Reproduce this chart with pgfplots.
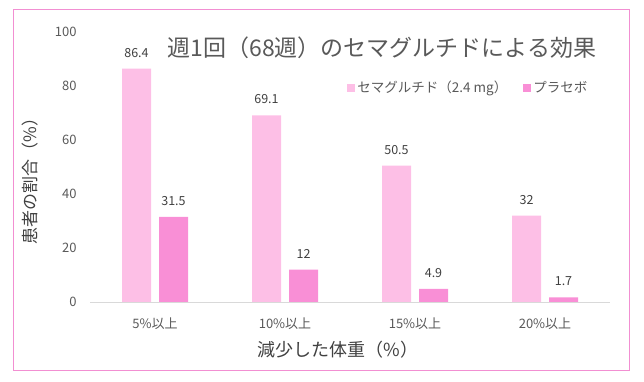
\documentclass[border=0pt]{standalone}
\usepackage{fontspec}
\setmainfont{Noto Sans CJK JP}
\usepackage{pgfplots}
\pgfplotsset{compat=1.18}
\definecolor{semag}{HTML}{FDBFE6}
\definecolor{placebo}{HTML}{F98FD6}
\definecolor{frame}{HTML}{F28FD2}
\definecolor{txtgray}{HTML}{595959}
\definecolor{lblgray}{HTML}{404040}
\begin{document}
\begin{tikzpicture}[x=1pt,y=1pt]
\path[use as bounding box] (0,0) rectangle (644,382);
\draw[frame, line width=1pt] (13,11) rectangle (629,372);
\begin{axis}[
  at={(90pt,80pt)}, anchor=south west,
  scale only axis, width=520pt, height=270pt,
  /pgf/number format/assume math mode=true,
  ybar, bar width=29pt,
  xmin=-0.5, xmax=3.5, ymin=0, ymax=100,
  xtick={0,1,2,3},
  xticklabels={5\%以上,10\%以上,15\%以上,20\%以上},
  ytick={0,20,40,60,80,100},
  axis x line*=bottom, axis y line*=left,
  x axis line style={draw=black!15, line width=0.8pt, -},
  y axis line style={draw=none},
  major tick length=0pt,
  tick label style={font=\fontsize{13}{15}\selectfont, text=txtgray},
  yticklabel style={xshift=-10pt},
  xticklabel style={yshift=-12pt},
  nodes near coords,
  every node near coord/.append style={anchor=center, yshift=16pt, font=\fontsize{12.5}{14}\selectfont, text=lblgray},
  title={週1回（68週）のセマグルチドによる効果},
  title style={at={(axis description cs:0.5615,0.92)}, anchor=center, font=\fontsize{23}{26}\selectfont, text=txtgray},
  ylabel={患者の割合（\%）},
  ylabel style={at={(axis description cs:-0.115,0.463)}, anchor=center, font=\fontsize{17}{20}\selectfont, text=lblgray},
  xlabel={減少した体重（\%）},
  xlabel style={at={(axis description cs:0.477,-0.177)}, anchor=center, font=\fontsize{18}{20}\selectfont, text=lblgray},
  legend columns=2,
  legend style={at={(axis description cs:0.489,0.793)}, anchor=west, draw=none, fill=none,
    font=\fontsize{13.5}{16}\selectfont, text=txtgray,
    /tikz/every even column/.append style={column sep=14pt}},
  legend image code/.code={\fill[#1,draw=none] (0pt,-4pt) rectangle (8pt,4pt);},
]
\addplot[fill=semag, draw=none, bar shift=-18.5pt] coordinates {(0,86.4) (1,69.1) (2,50.5) (3,32)};
\addplot[fill=placebo, draw=none, bar shift=18.5pt] coordinates {(0,31.5) (1,12) (2,4.9) (3,1.7)};
\legend{セマグルチド（2.4 mg）,プラセボ}
\end{axis}
\end{tikzpicture}
\end{document}
